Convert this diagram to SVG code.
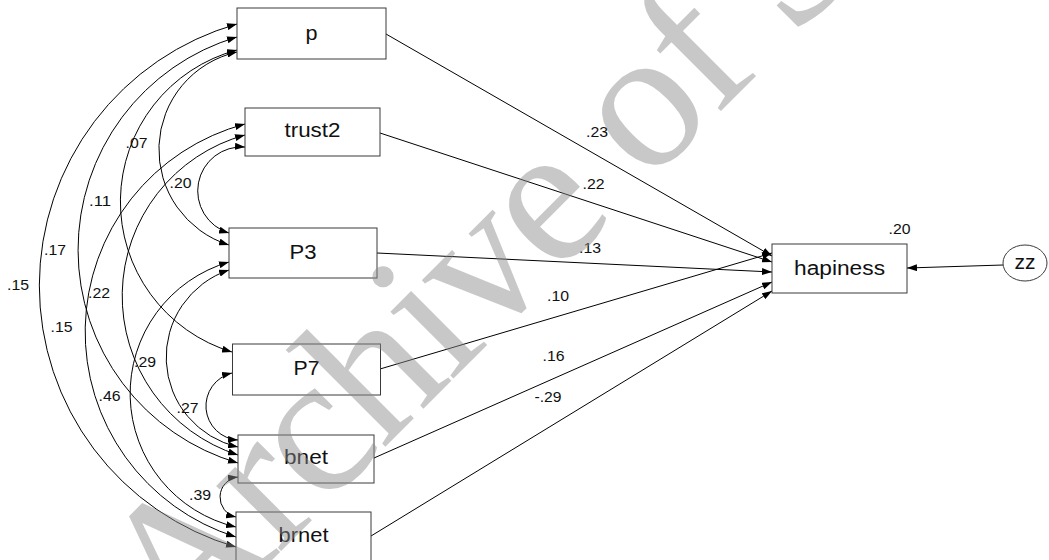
<svg xmlns="http://www.w3.org/2000/svg" width="1049" height="560" viewBox="0 0 1049 560">
<style>
.box{fill:#fff;stroke:#3a3a3a;stroke-width:1}
.ln{fill:none;stroke:#000;stroke-width:1}
.nt{font-family:"Liberation Sans",Arial,sans-serif;font-size:20px;text-anchor:middle;fill:#111}
.lb{font-family:"Liberation Sans",Arial,sans-serif;font-size:14px;text-anchor:middle;fill:#111}
.wm{font-family:"Liberation Serif","Times New Roman",serif;font-size:200px;letter-spacing:-4px;fill:#8a8a8a;fill-opacity:0.47}
</style>
<defs>
<marker id="ah" viewBox="0 0 10 7" refX="10" refY="3.5" markerWidth="10" markerHeight="7" markerUnits="userSpaceOnUse" orient="auto-start-reverse"><path d="M0,0 L10,3.5 L0,7z" fill="#000"/></marker>
</defs>
<rect width="1049" height="560" fill="#fff"/>
<g id="connectors" class="ln">
<path d="M386,34 L772,256" marker-end="url(#ah)"/>
<path d="M380,133 L772,262" marker-end="url(#ah)"/>
<path d="M377,253 L772,272" marker-end="url(#ah)"/>
<path d="M380,369 L772,253" marker-end="url(#ah)"/>
<path d="M374,458 L772,282" marker-end="url(#ah)"/>
<path d="M371,536 L772,291" marker-end="url(#ah)"/>
<path d="M1003,265 L907,268" marker-end="url(#ah)"/>
<path d="M237,24 A272,272 0 0 0 236,547" marker-start="url(#ah)" marker-end="url(#ah)"/>
<path d="M237,37 A222,222 0 0 0 238,463" marker-start="url(#ah)" marker-end="url(#ah)"/>
<path d="M237,50 A157,157 0 0 0 232,352" marker-start="url(#ah)" marker-end="url(#ah)"/>
<path d="M237,52 A100,100 0 0 0 229,245" marker-start="url(#ah)" marker-end="url(#ah)"/>
<path d="M245,124 A215,215 0 0 0 236,537" marker-start="url(#ah)" marker-end="url(#ah)"/>
<path d="M245,135 A167,167 0 0 0 238,455" marker-start="url(#ah)" marker-end="url(#ah)"/>
<path d="M245,147 A44,44 0 0 0 229,233" marker-start="url(#ah)" marker-end="url(#ah)"/>
<path d="M229,262 A137,137 0 0 0 236,527" marker-start="url(#ah)" marker-end="url(#ah)"/>
<path d="M229,270 A92,92 0 0 0 238,447" marker-start="url(#ah)" marker-end="url(#ah)"/>
<path d="M232,373 A34,34 0 0 0 238,440" marker-start="url(#ah)" marker-end="url(#ah)"/>
<path d="M238,477 A20.3,20.3 0 0 0 236,517" marker-start="url(#ah)" marker-end="url(#ah)"/>
</g>
<g id="n-p"><rect class="box" x="237" y="8" width="149" height="51"/><text class="nt" x="311.5" y="40" textLength="12" lengthAdjust="spacingAndGlyphs">p</text></g>
<g id="n-trust2"><rect class="box" x="245" y="108" width="135" height="48"/><text class="nt" x="312.5" y="137" textLength="56" lengthAdjust="spacingAndGlyphs">trust2</text></g>
<g id="n-P3"><rect class="box" x="229" y="228" width="148" height="50"/><text class="nt" x="303" y="258.5" textLength="27" lengthAdjust="spacingAndGlyphs">P3</text></g>
<g id="n-P7"><rect class="box" x="232.5" y="344" width="148" height="51"/><text class="nt" x="306.5" y="374.5" textLength="26" lengthAdjust="spacingAndGlyphs">P7</text></g>
<g id="n-bnet"><rect class="box" x="238" y="435" width="136" height="48"/><text class="nt" x="306" y="463.5" textLength="44" lengthAdjust="spacingAndGlyphs">bnet</text></g>
<g id="n-brnet"><rect class="box" x="236" y="512" width="135" height="51"/><text class="nt" x="303.5" y="542" textLength="50" lengthAdjust="spacingAndGlyphs">brnet</text></g>
<g id="n-hapiness"><rect class="box" x="772" y="244" width="135" height="49"/><text class="nt" x="839.5" y="274.5" textLength="91" lengthAdjust="spacingAndGlyphs">hapiness</text></g>
<g id="n-zz"><ellipse class="box" cx="1025" cy="263" rx="22" ry="18"/><text class="nt" x="1025" y="268.5" textLength="21" lengthAdjust="spacingAndGlyphs">zz</text></g>
<g id="labels" class="lb">
<text x="597" y="137" textLength="22" lengthAdjust="spacingAndGlyphs">.23</text>
<text x="593.5" y="189" textLength="22" lengthAdjust="spacingAndGlyphs">.22</text>
<text x="590" y="253" textLength="22" lengthAdjust="spacingAndGlyphs">.13</text>
<text x="558" y="301" textLength="22" lengthAdjust="spacingAndGlyphs">.10</text>
<text x="553.5" y="361" textLength="22" lengthAdjust="spacingAndGlyphs">.16</text>
<text x="548" y="402" textLength="27" lengthAdjust="spacingAndGlyphs">-.29</text>
<text x="899.5" y="234" textLength="22" lengthAdjust="spacingAndGlyphs">.20</text>
<text x="136.5" y="148" textLength="22" lengthAdjust="spacingAndGlyphs">.07</text>
<text x="180.5" y="188" textLength="22" lengthAdjust="spacingAndGlyphs">.20</text>
<text x="100" y="206" textLength="22" lengthAdjust="spacingAndGlyphs">.11</text>
<text x="55" y="255" textLength="22" lengthAdjust="spacingAndGlyphs">.17</text>
<text x="18" y="290" textLength="22" lengthAdjust="spacingAndGlyphs">.15</text>
<text x="99" y="298" textLength="22" lengthAdjust="spacingAndGlyphs">.22</text>
<text x="61.5" y="332" textLength="22" lengthAdjust="spacingAndGlyphs">.15</text>
<text x="145" y="367" textLength="22" lengthAdjust="spacingAndGlyphs">.29</text>
<text x="109.5" y="401" textLength="22" lengthAdjust="spacingAndGlyphs">.46</text>
<text x="187.5" y="413" textLength="22" lengthAdjust="spacingAndGlyphs">.27</text>
<text x="200" y="500" textLength="22" lengthAdjust="spacingAndGlyphs">.39</text>
</g>
<g id="watermark"><text class="wm" transform="translate(179,653) rotate(-45)">Archive of S</text></g>
</svg>
